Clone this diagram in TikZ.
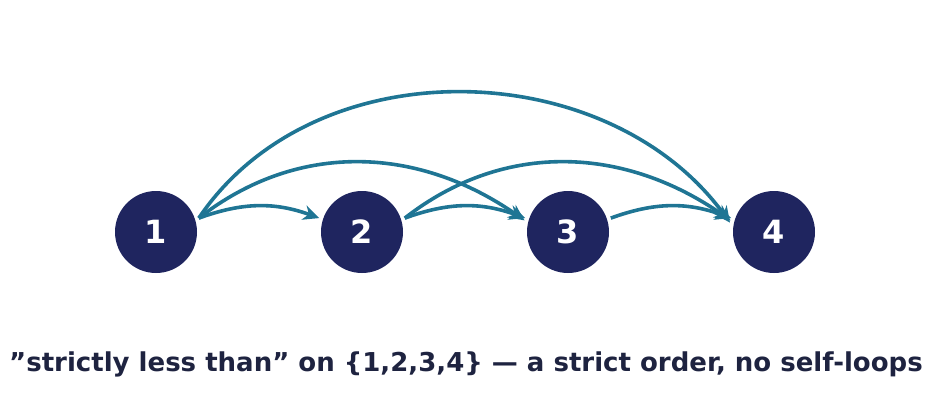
\documentclass[tikz,border=0pt]{standalone}
\usepackage{fontspec}
\setmainfont{DejaVu Sans}
\usetikzlibrary{arrows.meta, positioning}
\definecolor{navy}{HTML}{1F255F}
\definecolor{teal}{HTML}{1F7594}
\definecolor{ink}{HTML}{1E2340}

\begin{document}
\begin{tikzpicture}[x=1pt, y=-1pt, >={Stealth[length=16pt,width=15pt,inset=5pt]},
    elem/.style={circle, fill=navy, minimum size=82pt, inner sep=0pt, outer sep=4pt,
        text=white, font=\fontsize{32}{36}\selectfont\bfseries},
    rel/.style={->, teal, line width=3.6pt}]
    \useasboundingbox (0,0) rectangle (931,413);

    % Elements
    \node[elem] (n1) at (156,232) {1};
    \node[elem, right=116pt of n1] (n2) {2};
    \node[elem, right=116pt of n2] (n3) {3};
    \node[elem, right=116pt of n3] (n4) {4};

    % Short arrows
    \draw[rel] (n1.18) to[out=20, in=160] (n2.162);
    \draw[rel] (n2.18) to[out=20, in=160] (n3.162);
    \draw[rel] (n3.18) to[out=20, in=160] (n4.162);

    % Longer arrows
    \draw[rel] (n1.18) to[out=38, in=145] (n3.165);
    \draw[rel] (n2.18) to[out=38, in=145] (n4.165);
    \draw[rel] (n1.18) to[out=56, in=126] (n4.168);

    % Caption
    \node[text=ink, font=\fontsize{26}{30}\selectfont\bfseries] (cap) at (466,364)
        {\symbol{34}strictly less than\symbol{34} on \{1,2,3,4\} — a strict order, no self-loops};
\end{tikzpicture}
\end{document}
